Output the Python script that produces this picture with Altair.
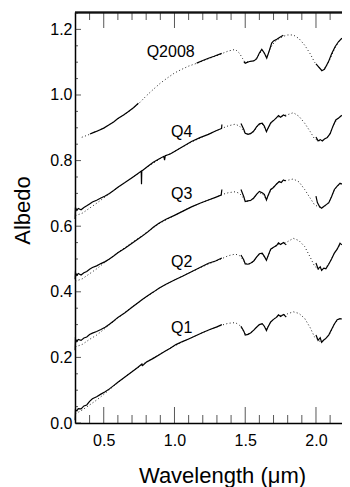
import altair as alt
import pandas as pd

FONT = "Liberation Sans, Arial, Helvetica, sans-serif"
W, H = 267, 411
X_MIN = 0.297
X_MAX = X_MIN + W / 141.5

# ---- model (dotted) curves ----
MODEL_X = [0.30, 0.35, 0.40, 0.45, 0.50, 0.55, 0.60, 0.70, 0.80, 0.90, 1.00, 1.10, 1.20, 1.30,
           1.34, 1.38, 1.43, 1.46, 1.48, 1.50, 1.53, 1.56, 1.59, 1.62, 1.65, 1.68, 1.71, 1.74,
           1.77, 1.80, 1.84, 1.88, 1.92, 1.96, 1.99, 2.02, 2.04, 2.07, 2.10, 2.13, 2.16, 2.18]
Q1_MODEL = [0.028, 0.040, 0.055, 0.070, 0.087, 0.105, 0.123, 0.157, 0.186, 0.211, 0.235, 0.256, 0.276, 0.293,
            0.299, 0.304, 0.306, 0.298, 0.285, 0.272, 0.272, 0.282, 0.297, 0.302, 0.287, 0.308, 0.320, 0.327,
            0.330, 0.333, 0.339, 0.334, 0.319, 0.290, 0.262, 0.250, 0.248, 0.258, 0.274, 0.302, 0.316, 0.320]
Q2_MODEL = [0.232, 0.240, 0.255, 0.268, 0.285, 0.303, 0.320, 0.354, 0.384, 0.413, 0.436, 0.457, 0.477, 0.495,
            0.502, 0.510, 0.515, 0.510, 0.500, 0.487, 0.485, 0.492, 0.512, 0.515, 0.498, 0.527, 0.540, 0.546,
            0.548, 0.553, 0.563, 0.556, 0.538, 0.505, 0.478, 0.468, 0.466, 0.474, 0.492, 0.518, 0.538, 0.545]
Q3_MODEL = [0.432, 0.440, 0.455, 0.470, 0.487, 0.503, 0.520, 0.550, 0.580, 0.610, 0.633, 0.655, 0.673, 0.690,
            0.697, 0.702, 0.705, 0.700, 0.690, 0.677, 0.676, 0.684, 0.702, 0.700, 0.682, 0.708, 0.725, 0.735,
            0.739, 0.740, 0.744, 0.735, 0.712, 0.685, 0.665, 0.659, 0.656, 0.663, 0.680, 0.710, 0.726, 0.730]
Q4_MODEL = [0.632, 0.640, 0.655, 0.670, 0.686, 0.702, 0.718, 0.748, 0.778, 0.806, 0.828, 0.852, 0.873, 0.892,
            0.899, 0.906, 0.911, 0.905, 0.895, 0.883, 0.880, 0.888, 0.908, 0.912, 0.890, 0.912, 0.928, 0.934,
            0.937, 0.940, 0.946, 0.935, 0.914, 0.888, 0.866, 0.861, 0.860, 0.868, 0.882, 0.914, 0.930, 0.937]
Q2008_MODEL_X = [0.345, 0.40, 0.45, 0.50, 0.55, 0.60, 0.65, 0.70, 0.75, 0.80, 0.85, 0.90, 0.95, 1.00, 1.05,
                 1.10, 1.16, 1.20, 1.25, 1.30, 1.34, 1.38, 1.43, 1.46, 1.48, 1.50, 1.53, 1.56, 1.59, 1.62,
                 1.65, 1.68, 1.71, 1.74, 1.77, 1.80, 1.84, 1.88, 1.92, 1.96, 1.99, 2.02, 2.04, 2.07, 2.10,
                 2.13, 2.16, 2.18]
Q2008_MODEL = [0.871, 0.880, 0.890, 0.899, 0.913, 0.927, 0.941, 0.957, 0.975, 0.997, 1.017, 1.036, 1.052, 1.067, 1.078,
               1.088, 1.097, 1.104, 1.112, 1.120, 1.127, 1.134, 1.139, 1.127, 1.112, 1.100, 1.102, 1.104, 1.118, 1.137,
               1.115, 1.145, 1.163, 1.172, 1.179, 1.183, 1.183, 1.172, 1.152, 1.125, 1.100, 1.085, 1.076, 1.085, 1.110,
               1.140, 1.162, 1.172]

# ---- measured (solid) segments ----
Q1_SEG1 = [(0.298, 0.008), (0.300, 0.040), (0.31, 0.037), (0.32, 0.044), (0.34, 0.043), (0.36, 0.052), (0.38, 0.055),
           (0.40, 0.066), (0.42, 0.074), (0.45, 0.080), (0.48, 0.088), (0.51, 0.095), (0.54, 0.104), (0.57, 0.114),
           (0.60, 0.124), (0.65, 0.140), (0.70, 0.156), (0.74, 0.169), (0.77, 0.180), (0.775, 0.175), (0.80, 0.185),
           (0.85, 0.197), (0.89, 0.207), (0.93, 0.218), (0.97, 0.228), (1.01, 0.239), (1.06, 0.249), (1.10, 0.256),
           (1.15, 0.266), (1.20, 0.276), (1.25, 0.285), (1.30, 0.293), (1.335, 0.300)]
Q1_SEG2 = [(1.47, 0.295), (1.49, 0.280), (1.50, 0.268), (1.52, 0.270), (1.54, 0.275), (1.56, 0.283), (1.58, 0.292),
           (1.60, 0.300), (1.62, 0.303), (1.635, 0.295), (1.65, 0.282), (1.66, 0.292), (1.68, 0.308), (1.70, 0.316),
           (1.72, 0.322), (1.735, 0.330), (1.75, 0.325), (1.77, 0.331), (1.79, 0.323)]
Q1_SEG3 = [(2.00, 0.268), (2.015, 0.252), (2.03, 0.260), (2.04, 0.246), (2.055, 0.253), (2.07, 0.258), (2.09, 0.268),
           (2.11, 0.285), (2.13, 0.302), (2.15, 0.315), (2.17, 0.318), (2.183, 0.317)]

Q2_SEG1 = [(0.298, 0.222), (0.300, 0.256), (0.31, 0.248), (0.32, 0.255), (0.34, 0.252), (0.36, 0.259), (0.38, 0.262),
           (0.40, 0.270), (0.42, 0.274), (0.45, 0.279), (0.48, 0.285), (0.51, 0.292), (0.54, 0.301), (0.57, 0.311),
           (0.60, 0.322), (0.65, 0.336), (0.70, 0.353), (0.74, 0.366), (0.77, 0.376), (0.80, 0.385), (0.85, 0.399),
           (0.89, 0.411), (0.94, 0.423), (1.00, 0.436), (1.06, 0.448), (1.12, 0.461), (1.18, 0.474), (1.24, 0.487),
           (1.29, 0.494), (1.335, 0.503)]
Q2_SEG2 = [(1.47, 0.512), (1.49, 0.497), (1.50, 0.485), (1.52, 0.484), (1.54, 0.488), (1.56, 0.494), (1.58, 0.506),
           (1.60, 0.516), (1.62, 0.518), (1.635, 0.508), (1.65, 0.496), (1.66, 0.508), (1.68, 0.530), (1.70, 0.536),
           (1.72, 0.540), (1.735, 0.549), (1.75, 0.544), (1.77, 0.550), (1.79, 0.543)]
Q2_SEG3 = [(2.00, 0.488), (2.015, 0.470), (2.03, 0.476), (2.04, 0.465), (2.055, 0.472), (2.07, 0.470), (2.09, 0.484),
           (2.11, 0.500), (2.13, 0.518), (2.15, 0.530), (2.17, 0.548), (2.183, 0.543)]

Q3_SEG1 = [(0.298, 0.438), (0.300, 0.458), (0.31, 0.450), (0.32, 0.456), (0.34, 0.451), (0.36, 0.458), (0.38, 0.462),
           (0.40, 0.469), (0.42, 0.474), (0.45, 0.479), (0.48, 0.486), (0.51, 0.492), (0.54, 0.500), (0.57, 0.509),
           (0.60, 0.519), (0.65, 0.533), (0.70, 0.548), (0.74, 0.560), (0.77, 0.569), (0.81, 0.582), (0.85, 0.597),
           (0.89, 0.609), (0.94, 0.621), (1.00, 0.633), (1.06, 0.646), (1.12, 0.659), (1.18, 0.670), (1.24, 0.680),
           (1.29, 0.688), (1.33, 0.695), (1.335, 0.712)]
Q3_SEG2 = [(1.47, 0.712), (1.49, 0.690), (1.50, 0.675), (1.52, 0.677), (1.54, 0.679), (1.56, 0.686), (1.58, 0.697),
           (1.60, 0.706), (1.62, 0.702), (1.635, 0.697), (1.65, 0.680), (1.66, 0.692), (1.68, 0.712), (1.70, 0.718),
           (1.72, 0.728), (1.74, 0.736), (1.755, 0.733), (1.77, 0.741), (1.785, 0.738)]
Q3_SEG3 = [(2.00, 0.692), (2.01, 0.672), (2.025, 0.660), (2.04, 0.655), (2.055, 0.660), (2.07, 0.665), (2.09, 0.671),
           (2.11, 0.690), (2.13, 0.712), (2.15, 0.722), (2.17, 0.731), (2.183, 0.728)]

Q4_SEG1 = [(0.298, 0.622), (0.300, 0.657), (0.31, 0.648), (0.32, 0.654), (0.34, 0.650), (0.36, 0.657), (0.38, 0.662),
           (0.40, 0.668), (0.42, 0.674), (0.45, 0.679), (0.48, 0.686), (0.51, 0.692), (0.54, 0.700), (0.57, 0.709),
           (0.60, 0.719), (0.65, 0.733), (0.70, 0.748), (0.74, 0.760), (0.765, 0.768), (0.767, 0.728), (0.769, 0.768),
           (0.81, 0.782), (0.85, 0.795), (0.89, 0.805), (0.925, 0.813), (0.93, 0.801), (0.935, 0.815), (0.97, 0.820),
           (1.00, 0.828), (1.06, 0.843), (1.12, 0.858), (1.18, 0.870), (1.24, 0.880), (1.29, 0.890), (1.333, 0.898),
           (1.335, 0.910)]
Q4_SEG2 = [(1.47, 0.913), (1.49, 0.895), (1.50, 0.883), (1.52, 0.880), (1.54, 0.883), (1.56, 0.890), (1.58, 0.903),
           (1.60, 0.912), (1.62, 0.914), (1.635, 0.905), (1.65, 0.888), (1.66, 0.898), (1.68, 0.915), (1.70, 0.922),
           (1.72, 0.930), (1.735, 0.937), (1.75, 0.932), (1.77, 0.939), (1.79, 0.935)]
Q4_SEG3 = [(2.00, 0.872), (2.015, 0.860), (2.03, 0.864), (2.045, 0.860), (2.06, 0.866), (2.08, 0.870), (2.10, 0.882),
           (2.12, 0.905), (2.14, 0.924), (2.16, 0.930), (2.183, 0.938)]

Q2008_SEG1 = [(0.403, 0.881), (0.43, 0.886), (0.46, 0.891), (0.50, 0.899), (0.53, 0.907), (0.57, 0.918), (0.60, 0.928),
              (0.64, 0.939), (0.67, 0.948), (0.71, 0.961), (0.745, 0.975)]
Q2008_SEG2 = [(1.157, 1.097), (1.20, 1.105), (1.24, 1.112), (1.28, 1.118), (1.334, 1.127)]
Q2008_SEG3 = [(1.49, 1.102), (1.50, 1.097), (1.53, 1.102), (1.56, 1.104), (1.58, 1.110), (1.60, 1.128), (1.617, 1.139),
              (1.635, 1.128), (1.652, 1.112), (1.67, 1.135), (1.687, 1.158), (1.70, 1.165), (1.723, 1.170),
              (1.745, 1.176), (1.769, 1.182)]
Q2008_SEG4 = [(2.00, 1.095), (2.02, 1.085), (2.03, 1.080), (2.041, 1.074), (2.06, 1.078), (2.088, 1.101), (2.11, 1.125),
              (2.135, 1.147), (2.16, 1.163), (2.183, 1.173)]

# ---- curve labels ----
LABELS = ["Q2008", "Q4", "Q3", "Q2", "Q1"]
LABEL_X = [0.973, 1.051, 1.051, 1.051, 1.051]
LABEL_Y = [1.130, 0.886, 0.698, 0.490, 0.290]

# ---- axis ticks ----
X_MAJOR = [0.5, 1.0, 1.5, 2.0]
X_MINOR = [0.4, 0.6, 0.7, 0.8, 0.9, 1.1, 1.2, 1.3, 1.4, 1.6, 1.7, 1.8, 1.9, 2.1]
Y_MAJOR = [0.0, 0.2, 0.4, 0.6, 0.8, 1.0, 1.2]
Y_MINOR = [0.05, 0.1, 0.15, 0.25, 0.3, 0.35, 0.45, 0.5, 0.55, 0.65, 0.7, 0.75, 0.85, 0.9, 0.95,
           1.05, 1.1, 1.15, 1.25]

# ---- tables ----
model_rows = []
for name, xs_, ys_ in [("Q1", MODEL_X, Q1_MODEL), ("Q2", MODEL_X, Q2_MODEL), ("Q3", MODEL_X, Q3_MODEL),
                       ("Q4", MODEL_X, Q4_MODEL), ("Q2008", Q2008_MODEL_X, Q2008_MODEL)]:
    for i, (x, y) in enumerate(zip(xs_, ys_)):
        model_rows.append({"series": name, "wl": x, "albedo": y, "ord": i})
model_df = pd.DataFrame(model_rows)

data_rows = []
for name, segs in [("Q1", [Q1_SEG1, Q1_SEG2, Q1_SEG3]), ("Q2", [Q2_SEG1, Q2_SEG2, Q2_SEG3]),
                   ("Q3", [Q3_SEG1, Q3_SEG2, Q3_SEG3]), ("Q4", [Q4_SEG1, Q4_SEG2, Q4_SEG3]),
                   ("Q2008", [Q2008_SEG1, Q2008_SEG2, Q2008_SEG3, Q2008_SEG4])]:
    for s, seg in enumerate(segs):
        for i, (x, y) in enumerate(seg):
            data_rows.append({"key": f"{name}-{s}", "wl": x, "albedo": y, "ord": i})
data_df = pd.DataFrame(data_rows)

label_df = pd.DataFrame({"label": LABELS, "wl": LABEL_X, "albedo": LABEL_Y})
xmaj_df = pd.DataFrame({"tick": X_MAJOR})
xmin_df = pd.DataFrame({"tick": X_MINOR})
ymaj_df = pd.DataFrame({"tick": Y_MAJOR})
ymin_df = pd.DataFrame({"tick": Y_MINOR})

xs = alt.Scale(domain=[X_MIN, X_MAX], nice=False, zero=False)
ys = alt.Scale(domain=[0.0, 1.253], nice=False, zero=False)

x_axis = alt.Axis(values=X_MAJOR, format=".1f", ticks=False, domain=True, domainColor="black",
                  domainWidth=1.3, grid=False, labelFont=FONT, labelFontSize=16, labelPadding=9,
                  labelFlush=False, labelColor="black",
                  title="Wavelength (μm)", titleFont=FONT, titleFontSize=22, titleFontWeight="normal",
                  titleColor="black", titleX=147, titleY=59, titleAlign="center", titleBaseline="alphabetic")
y_axis = alt.Axis(values=Y_MAJOR, format=".1f", ticks=False, domain=True, domainColor="black",
                  domainWidth=1.5, grid=False, labelFont=FONT, labelFontSize=16, labelPadding=3,
                  labelFlush=False, labelColor="black",
                  title="Albedo", titleFont=FONT, titleFontSize=22, titleFontWeight="normal",
                  titleColor="black", titleX=-46, titleY=198, titleAngle=270, titleAlign="center",
                  titleBaseline="alphabetic")

model = alt.Chart(model_df).mark_line(color="#222222", strokeWidth=1, strokeDash=[1, 2.4]).encode(
    x=alt.X("wl:Q", scale=xs, axis=x_axis),
    y=alt.Y("albedo:Q", scale=ys, axis=y_axis),
    detail="series:N",
    order="ord:Q",
)

data = alt.Chart(data_df).mark_line(color="black", strokeWidth=1.2).encode(
    x=alt.X("wl:Q", scale=xs),
    y=alt.Y("albedo:Q", scale=ys),
    detail="key:N",
    order="ord:Q",
)

labels = alt.Chart(label_df).mark_text(font=FONT, fontSize=16, color="black", align="center",
                                       baseline="middle").encode(
    x=alt.X("wl:Q", scale=xs),
    y=alt.Y("albedo:Q", scale=ys),
    text="label:N",
)

# inward tick marks (bottom, top, left) as tick marks, and the top frame line
def vticks(df, size, ypix):
    return alt.Chart(df).mark_tick(color="#111111", orient="vertical", thickness=1, size=size).encode(
        x=alt.X("tick:Q", scale=xs), y=alt.value(ypix))


bt_major = vticks(xmaj_df, 16, H - 8)
bt_minor = vticks(xmin_df, 8, H - 4)
tp_major = vticks(xmaj_df, 16, 8)
tp_minor = vticks(xmin_df, 8, 4)
lf_major = alt.Chart(ymaj_df).mark_tick(color="#111111", orient="horizontal", thickness=1, size=6).encode(
    y=alt.Y("tick:Q", scale=ys), x=alt.value(3))
lf_minor = alt.Chart(ymin_df).mark_tick(color="#111111", orient="horizontal", thickness=1, size=3).encode(
    y=alt.Y("tick:Q", scale=ys), x=alt.value(1.5))
top_line = alt.Chart(xmaj_df).mark_rule(color="#111111", strokeWidth=1.4).encode(
    x=alt.value(0), x2=alt.value(W), y=alt.value(0.5))

chart = alt.layer(model, data, labels, bt_major, bt_minor, tp_major, tp_minor, lf_major, lf_minor,
                  top_line).properties(
    width=W, height=H,
    autosize=alt.AutoSizeParams(type="none"),
    padding={"left": 67, "top": 4, "right": 0, "bottom": 64},
).configure_view(strokeWidth=0)

chart.save("out.html", embed_options={"renderer": "svg", "actions": False})
